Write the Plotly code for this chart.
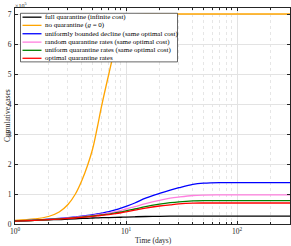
import plotly.graph_objects as go
import numpy as np

t_days = [1, 1.5, 2, 2.5, 3, 3.5, 4, 4.5, 5, 5.5, 6, 7, 8, 9, 10, 12, 15, 20, 25, 30, 40, 50, 70, 100, 150, 200, 300]

full_quarantine = [0.10, 0.12, 0.14, 0.15, 0.165, 0.175, 0.185, 0.19, 0.20, 0.205, 0.21, 0.215, 0.22, 0.225, 0.23, 0.24, 0.25, 0.255, 0.26, 0.26, 0.26, 0.26, 0.26, 0.26, 0.26, 0.26, 0.26]
no_quarantine = [0.12, 0.17, 0.25, 0.40, 0.65, 1.0, 1.45, 1.95, 2.5, 3.2, 3.9, 5.0, 5.9, 6.5, 6.85, 6.98, 7.0, 7.0, 7.0, 7.0, 7.0, 7.0, 7.0, 7.0, 7.0, 7.0, 7.0]
uniform_bounded = [0.10, 0.13, 0.16, 0.185, 0.21, 0.235, 0.26, 0.285, 0.31, 0.335, 0.36, 0.41, 0.47, 0.53, 0.59, 0.70, 0.86, 1.02, 1.13, 1.21, 1.32, 1.36, 1.38, 1.38, 1.38, 1.38, 1.38]
random_rates = [0.10, 0.13, 0.155, 0.18, 0.20, 0.225, 0.245, 0.27, 0.29, 0.31, 0.33, 0.37, 0.41, 0.45, 0.50, 0.58, 0.68, 0.79, 0.86, 0.90, 0.95, 0.965, 0.97, 0.97, 0.97, 0.97, 0.97]
uniform_rates = [0.10, 0.125, 0.15, 0.17, 0.19, 0.21, 0.23, 0.25, 0.27, 0.285, 0.30, 0.33, 0.37, 0.40, 0.44, 0.50, 0.58, 0.66, 0.71, 0.74, 0.77, 0.78, 0.78, 0.78, 0.78, 0.78, 0.78]
optimal_rates = [0.095, 0.12, 0.145, 0.165, 0.185, 0.20, 0.22, 0.24, 0.255, 0.27, 0.285, 0.315, 0.345, 0.375, 0.405, 0.46, 0.53, 0.60, 0.64, 0.67, 0.695, 0.70, 0.70, 0.70, 0.70, 0.70, 0.70]

series_names = [
    "full quarantine (infinite cost)",
    "no quarantine (<i>g</i> = 0)",
    "uniformly bounded decline (same optimal cost)",
    "random quarantine rates (same optimal cost)",
    "uniform quarantine rates (same optimal cost)",
    "optimal quarantine rates",
]
series_values = [full_quarantine, no_quarantine, uniform_bounded, random_rates, uniform_rates, optimal_rates]
series_colors = ["#000000", "#FFA500", "#0000FF", "#FF80DF", "#008000", "#FF0000"]

y_ticks = [0, 1, 2, 3, 4, 5, 6, 7]
x_tickvals = [1, 10, 100]
x_ticktext = ["10<sup>0</sup>", "10<sup>1</sup>", "10<sup>2</sup>"]

FONT = "Liberation Serif"
TXT = "#262626"

fig = go.Figure()
draw_order = [1, 0, 2, 3, 4, 5]
for i in draw_order:
    fig.add_trace(go.Scatter(x=t_days, y=series_values[i], mode="lines",
                             line=dict(color=series_colors[i], width=1.3, shape="spline"),
                             name=series_names[i], showlegend=False))

# custom legend
PL, PW, PB, PH = 15, 275, 224.5, 216.5
def px_x(x):
    return (x - PL) / PW
def px_y(y):
    return (PB - y) / PH

fig.add_shape(type="rect", xref="paper", yref="paper", x0=px_x(20.5), x1=px_x(177.5),
              y0=px_y(62), y1=px_y(13.3),
              line=dict(color="#404040", width=0.8), fillcolor="white", layer="above")
entry_px = [17.2, 25.4, 33.8, 42.2, 50.4, 58.4]
for name, col, py in zip(series_names, series_colors, entry_px):
    yp = px_y(py)
    fig.add_shape(type="line", xref="paper", yref="paper", x0=px_x(22.5), x1=px_x(41.5),
                  y0=yp, y1=yp, line=dict(color=col, width=1.3), layer="above")
    fig.add_annotation(xref="paper", yref="paper", x=px_x(43), y=yp, text=name,
                       showarrow=False, xanchor="left", yanchor="middle",
                       font=dict(family=FONT, size=7, color="#000"))

fig.add_annotation(xref="paper", yref="paper", x=px_x(14), y=px_y(0), text="×10<sup>5</sup>",
                   showarrow=False, xanchor="left", yanchor="top", borderpad=0,
                   font=dict(family=FONT, size=6, color=TXT))

# axis titles
fig.add_annotation(xref="paper", yref="paper", x=px_x(153), y=px_y(246), yshift=-1,
                   text="Time (days)", borderpad=0,
                   showarrow=False, xanchor="center", yanchor="bottom",
                   font=dict(family=FONT, size=7.5, color=TXT))
fig.add_annotation(xref="paper", yref="paper", x=px_x(0.5), y=0.5, text="Cumulative cases",
                   showarrow=False, xanchor="left", yanchor="middle", textangle=-90,
                   font=dict(family=FONT, size=7.5, color=TXT))

fig.update_layout(
    width=291, height=246,
    margin=dict(l=15, r=1, t=8, b=21.5),
    paper_bgcolor="white", plot_bgcolor="white",
    font=dict(family=FONT, size=7.5, color=TXT),
    xaxis=dict(type="log", range=[0, np.log10(300)], tickvals=x_tickvals, ticktext=x_ticktext,
               ticks="inside", ticklen=3, tickcolor=TXT, showline=True, linecolor=TXT,
               linewidth=0.8, mirror="ticks", showgrid=True, gridcolor="#e3e3e3", gridwidth=0.6,
               zeroline=False, tickfont=dict(size=7.5), ticklabelstandoff=0,
               minor=dict(ticks="inside", ticklen=2, tickcolor=TXT, showgrid=True,
                          gridcolor="#e6e6e6", griddash="dot", gridwidth=0.6, dtick="D1")),
    yaxis=dict(range=[0, 7.2], tickvals=y_ticks, ticks="inside", ticklen=3, tickcolor=TXT,
               showline=True, linecolor=TXT, linewidth=0.8, mirror="ticks",
               showgrid=True, gridcolor="#e3e3e3", gridwidth=0.6, zeroline=False,
               tickfont=dict(size=7.5), ticklabelstandoff=1),
)

fig.write_html("out.html", config={"displayModeBar": False},
               post_script="document.body.style.margin='0';document.body.style.overflow='hidden';")
